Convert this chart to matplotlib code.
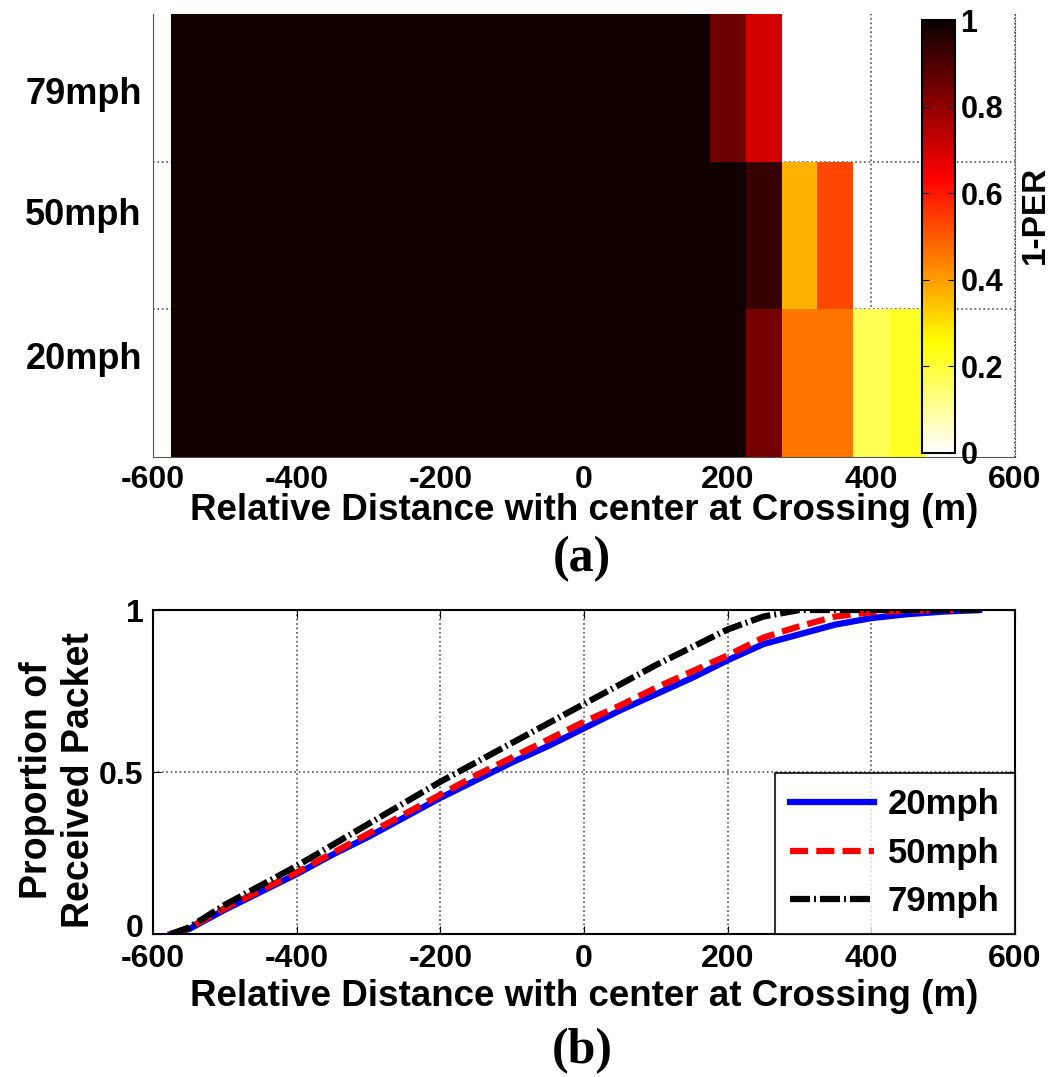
import numpy as np
import matplotlib
matplotlib.use("Agg")
import matplotlib.pyplot as plt
from matplotlib.transforms import ScaledTranslation

plt.rcParams['font.family'] = ['Liberation Sans', 'DejaVu Sans']
plt.rcParams['font.weight'] = 'bold'

# ---------------- data ----------------
speeds = ["20mph", "50mph", "79mph"]
cell_edges = np.arange(-575, 476, 50)   # 21 cells of 50 m
# 1-PER per 50 m cell (rows: 20mph, 50mph, 79mph); NaN = no data
row_20 = [0.99]*16 + [0.84, 0.46, 0.46, 0.17, 0.22]
row_50 = [0.99]*16 + [0.93, 0.37, 0.53, np.nan, np.nan]
row_79 = [0.99]*15 + [0.85, 0.70, np.nan, np.nan, np.nan, np.nan]

dist = [-575, -550, -500, -450, -400, -350, -300, -250, -200, -150, -100, -50,
        0, 50, 100, 150, 200, 250, 300, 350, 400, 450, 500, 550]
cdf_20 = [0, 0.015, 0.075, 0.13, 0.185, 0.245, 0.30, 0.36, 0.42, 0.475, 0.53, 0.58,
          0.635, 0.69, 0.74, 0.79, 0.845, 0.895, 0.925, 0.955, 0.975, 0.987, 0.995, 1.0]
cdf_50 = [0, 0.018, 0.08, 0.135, 0.19, 0.25, 0.31, 0.37, 0.43, 0.49, 0.545, 0.60,
          0.655, 0.705, 0.76, 0.81, 0.86, 0.915, 0.95, 0.98, 0.993, 0.998, 1.0, 1.0]
cdf_79 = [0, 0.02, 0.09, 0.15, 0.21, 0.275, 0.34, 0.405, 0.47, 0.53, 0.59, 0.65,
          0.71, 0.77, 0.83, 0.885, 0.94, 0.98, 1.0, 1.0, 1.0, 1.0, 1.0, 1.0]

xticks = [-600, -400, -200, 0, 200, 400, 600]
ylabel_pos = [0.19, 1.16, 1.98]
xlabel_txt = "Relative Distance with center at Crossing (m)"

W, H = 1051, 1077
fig = plt.figure(figsize=(W/100, H/100), dpi=100)

def fx(px): return px / W
def fy(py): return 1 - py / H

# ---------------- top heatmap ----------------
ax1 = fig.add_axes([fx(153), fy(457), fx(1015) - fx(153), fy(14) - fy(457)])
Z = np.ma.masked_invalid(np.array([row_20, row_50, row_79]))
ax1.pcolormesh(cell_edges, np.arange(-0.5, 3.0, 1.0), Z, cmap='hot_r', vmin=0, vmax=1)
ax1.set_xlim(-600, 600)
ax1.set_ylim(-0.5, 2.5)
ax1.set_xticks(xticks)
ax1.set_xticklabels([str(v) for v in xticks], fontsize=23, fontweight='bold')
ax1.set_yticks(ylabel_pos)
ax1.set_yticklabels(speeds, fontsize=26, fontweight='bold')
ax1.set_yticks([0.5, 1.5], minor=True)
ax1.tick_params(axis='y', which='both', length=0, pad=8)
ax1.tick_params(axis='x', length=0, pad=6)
ax1.set_axisbelow(True)
ax1.grid(True, axis='x', linestyle=':', color='#555555', linewidth=1.2)
ax1.grid(True, axis='y', which='minor', linestyle=':', color='#555555', linewidth=1.2)
ax1.spines['top'].set_visible(False)
ax1.spines['right'].set_linestyle(':')
ax1.spines['right'].set_color('#555555')
ax1.spines['left'].set_color('#555555')
ax1.spines['bottom'].set_color('#555555')
ax1.set_xlabel(xlabel_txt, fontsize=26.5, fontweight='bold', va='center')
ax1.xaxis.set_label_coords(0.5, -(510 - 457) / 443)

# colorbar inside the axes area
cax = fig.add_axes([fx(922), fy(453), fx(955) - fx(922), fy(20) - fy(453)])
sm = matplotlib.cm.ScalarMappable(cmap='hot_r', norm=matplotlib.colors.Normalize(0, 1))
cb = fig.colorbar(sm, cax=cax)
cb.set_ticks([0, 0.2, 0.4, 0.6, 0.8, 1])
cb.set_ticklabels(['0', '0.2', '0.4', '0.6', '0.8', '1'])
cax.tick_params(labelsize=22, direction='in', length=5, left=True, right=True, pad=4)
for t in cax.get_yticklabels():
    t.set_fontweight('bold')
cb.outline.set_linewidth(1.5)
cb.set_label('1-PER', fontsize=24, fontweight='bold', va='center')
cax.yaxis.set_label_coords((1035 - 922) / 33, (453 - 215) / 433)

fig.text(fx(582), fy(559), "(a)", fontsize=36, fontweight='bold',
         family=['Liberation Serif', 'DejaVu Serif'], ha='center', va='center')

# ---------------- bottom CDF ----------------
ax2 = fig.add_axes([fx(153), fy(934), fx(1015) - fx(153), fy(610) - fy(934)])
ax2.plot(dist, cdf_20, color='#0000ff', linestyle='-', linewidth=4.5, label=speeds[0])
ax2.plot(dist, cdf_50, color='#ff0000', linestyle=(0, (2.9, 1.3)), linewidth=4.5, label=speeds[1])
ax2.plot(dist, cdf_79, color='black', linestyle=(0, (3.2, 0.65, 0.3, 0.65)), linewidth=4.5, label=speeds[2])
ax2.set_xlim(-600, 600)
ax2.set_ylim(0, 1)
ax2.set_xticks(xticks)
ax2.set_xticklabels([str(v) for v in xticks], fontsize=23, fontweight='bold')
ax2.set_yticks([0, 0.5, 1])
ax2.set_yticklabels(['0', '0.5', '1'], fontsize=23, fontweight='bold')
ax2.tick_params(direction='in', length=6, top=True, right=True)
ax2.tick_params(axis='x', pad=7)
ax2.tick_params(axis='y', pad=7)
ax2.grid(True, linestyle=':', color='#555555', linewidth=1.2)
for s in ax2.spines.values():
    s.set_linewidth(1.5)
# nudge the "0" y tick label slightly up (as in the reference) to clear "-600"
zero_lbl = ax2.get_yticklabels()[0]
zero_lbl.set_transform(zero_lbl.get_transform() + ScaledTranslation(0, 6/72, fig.dpi_scale_trans))
ax2.set_xlabel(xlabel_txt, fontsize=26.5, fontweight='bold', va='center')
ax2.xaxis.set_label_coords(0.5, -(997 - 934) / 324)
ax2.set_ylabel("Proportion of\nReceived Packet", fontsize=27, fontweight='bold', va='center')
ax2.yaxis.set_label_coords((58 - 153) / 862, (934 - 780) / 324)
leg = ax2.legend(loc='lower right', fontsize=25, frameon=True, fancybox=False,
                 edgecolor='black', borderaxespad=0, handlelength=2.4,
                 handletextpad=0.4, labelspacing=0.45, borderpad=0.45)
leg.get_frame().set_linewidth(1.5)
for t in leg.get_texts():
    t.set_fontweight('bold')

fig.text(fx(582), fy(1051), "(b)", fontsize=36, fontweight='bold',
         family=['Liberation Serif', 'DejaVu Serif'], ha='center', va='center')

fig.savefig("out.png", dpi=100)
